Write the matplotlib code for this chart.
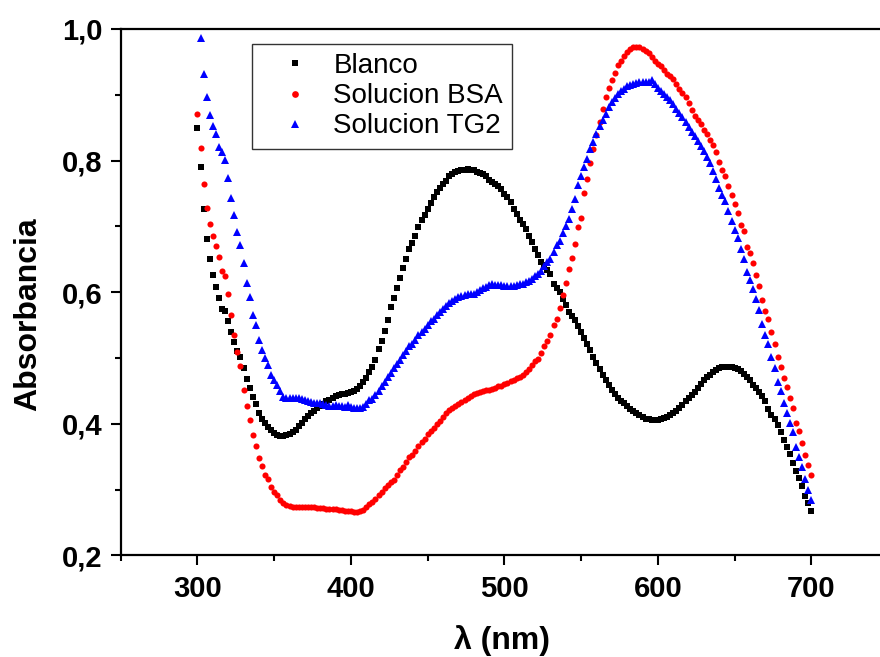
import numpy as np
import matplotlib
matplotlib.use("Agg")
import matplotlib.pyplot as plt
from matplotlib.ticker import MultipleLocator, FuncFormatter

plt.rcParams['font.family'] = ['Liberation Sans', 'DejaVu Sans']
plt.rcParams['font.weight'] = 'bold'

# Wavelength grids (nm)
wl = np.arange(300, 701, 2)
wl_tg2 = np.arange(302, 701, 2)

# Absorbance spectra
blanco = np.array([
    0.849, 0.791, 0.726, 0.681, 0.650, 0.626, 0.608, 0.591, 0.575, 0.571,
    0.556, 0.539, 0.525, 0.511, 0.501, 0.485, 0.468, 0.455, 0.441, 0.430,
    0.417, 0.408, 0.401, 0.395, 0.390, 0.386, 0.383, 0.382, 0.382, 0.383,
    0.385, 0.388, 0.391, 0.396, 0.402, 0.407, 0.412, 0.416, 0.420, 0.424,
    0.427, 0.430, 0.434, 0.437, 0.440, 0.442, 0.444, 0.445, 0.446, 0.447,
    0.449, 0.450, 0.453, 0.457, 0.463, 0.470, 0.479, 0.487, 0.497, 0.513,
    0.526, 0.541, 0.558, 0.577, 0.591, 0.606, 0.622, 0.637, 0.651, 0.665,
    0.675, 0.685, 0.699, 0.709, 0.717, 0.726, 0.736, 0.744, 0.752, 0.759,
    0.764, 0.769, 0.776, 0.779, 0.782, 0.784, 0.785, 0.786, 0.787, 0.786,
    0.785, 0.783, 0.781, 0.779, 0.776, 0.771, 0.768, 0.765, 0.761, 0.757,
    0.750, 0.744, 0.737, 0.727, 0.719, 0.710, 0.704, 0.696, 0.686, 0.676,
    0.665, 0.656, 0.646, 0.641, 0.634, 0.627, 0.613, 0.607, 0.601, 0.590,
    0.581, 0.570, 0.564, 0.558, 0.549, 0.540, 0.530, 0.521, 0.512, 0.502,
    0.492, 0.483, 0.474, 0.466, 0.459, 0.452, 0.445, 0.439, 0.435, 0.431,
    0.427, 0.423, 0.419, 0.416, 0.413, 0.410, 0.408, 0.407, 0.406, 0.406,
    0.406, 0.407, 0.409, 0.411, 0.413, 0.416, 0.419, 0.424, 0.429, 0.434,
    0.439, 0.444, 0.449, 0.455, 0.461, 0.466, 0.471, 0.475, 0.479, 0.482,
    0.485, 0.486, 0.487, 0.487, 0.487, 0.485, 0.483, 0.480, 0.476, 0.471,
    0.466, 0.459, 0.454, 0.448, 0.442, 0.434, 0.423, 0.414, 0.407, 0.398,
    0.388, 0.376, 0.365, 0.354, 0.340, 0.329, 0.317, 0.305, 0.291, 0.280,
    0.268,
])

solucion_bsa = np.array([
    0.871, 0.819, 0.764, 0.728, 0.704, 0.685, 0.671, 0.654, 0.633, 0.625,
    0.598, 0.565, 0.535, 0.509, 0.488, 0.452, 0.427, 0.406, 0.383, 0.367,
    0.348, 0.336, 0.323, 0.316, 0.304, 0.297, 0.292, 0.285, 0.280, 0.277,
    0.275, 0.274, 0.273, 0.273, 0.273, 0.273, 0.274, 0.273, 0.273, 0.272,
    0.272, 0.272, 0.271, 0.271, 0.270, 0.270, 0.269, 0.269, 0.268, 0.268,
    0.267, 0.266, 0.266, 0.267, 0.269, 0.273, 0.278, 0.282, 0.286, 0.292,
    0.297, 0.302, 0.307, 0.311, 0.315, 0.323, 0.330, 0.335, 0.342, 0.349,
    0.353, 0.359, 0.366, 0.372, 0.377, 0.384, 0.389, 0.393, 0.400, 0.405,
    0.410, 0.416, 0.421, 0.424, 0.427, 0.430, 0.433, 0.436, 0.439, 0.442,
    0.445, 0.447, 0.449, 0.450, 0.451, 0.452, 0.453, 0.455, 0.457, 0.458,
    0.460, 0.462, 0.465, 0.467, 0.469, 0.471, 0.475, 0.479, 0.484, 0.490,
    0.495, 0.498, 0.507, 0.519, 0.526, 0.535, 0.550, 0.560, 0.576, 0.596,
    0.614, 0.636, 0.652, 0.674, 0.699, 0.713, 0.751, 0.772, 0.797, 0.817,
    0.839, 0.859, 0.879, 0.896, 0.910, 0.923, 0.933, 0.945, 0.952, 0.959,
    0.965, 0.969, 0.972, 0.973, 0.972, 0.970, 0.967, 0.963, 0.958, 0.952,
    0.947, 0.943, 0.938, 0.932, 0.929, 0.924, 0.916, 0.909, 0.903, 0.896,
    0.888, 0.877, 0.868, 0.862, 0.855, 0.847, 0.840, 0.832, 0.823, 0.813,
    0.798, 0.786, 0.776, 0.761, 0.748, 0.734, 0.720, 0.702, 0.693, 0.668,
    0.659, 0.644, 0.626, 0.609, 0.588, 0.572, 0.559, 0.540, 0.521, 0.502,
    0.487, 0.469, 0.456, 0.439, 0.424, 0.402, 0.389, 0.371, 0.352, 0.337,
    0.323,
])

solucion_tg2 = np.array([
    0.986, 0.932, 0.897, 0.870, 0.852, 0.840, 0.821, 0.813, 0.801,
    0.774, 0.743, 0.717, 0.692, 0.672, 0.645, 0.614, 0.592, 0.566, 0.550,
    0.527, 0.512, 0.500, 0.489, 0.475, 0.467, 0.459, 0.450, 0.441, 0.440,
    0.440, 0.439, 0.440, 0.439, 0.438, 0.437, 0.435, 0.433, 0.431, 0.431,
    0.432, 0.430, 0.428, 0.427, 0.427, 0.428, 0.427, 0.427, 0.426, 0.428,
    0.425, 0.424, 0.424, 0.424, 0.426, 0.430, 0.436, 0.438, 0.444, 0.450,
    0.457, 0.464, 0.471, 0.478, 0.485, 0.491, 0.497, 0.504, 0.510, 0.518,
    0.522, 0.528, 0.535, 0.540, 0.544, 0.550, 0.556, 0.560, 0.565, 0.570,
    0.575, 0.579, 0.583, 0.586, 0.589, 0.592, 0.594, 0.596, 0.598, 0.598,
    0.597, 0.600, 0.603, 0.606, 0.608, 0.611, 0.612, 0.611, 0.611, 0.611,
    0.610, 0.609, 0.609, 0.610, 0.611, 0.612, 0.613, 0.615, 0.617, 0.620,
    0.624, 0.628, 0.633, 0.640, 0.646, 0.650, 0.661, 0.672, 0.678, 0.690,
    0.700, 0.711, 0.727, 0.742, 0.763, 0.776, 0.791, 0.803, 0.818, 0.829,
    0.840, 0.852, 0.862, 0.871, 0.881, 0.889, 0.895, 0.901, 0.905, 0.909,
    0.913, 0.915, 0.917, 0.918, 0.919, 0.920, 0.920, 0.920, 0.922, 0.916,
    0.911, 0.906, 0.901, 0.896, 0.892, 0.886, 0.879, 0.873, 0.867, 0.859,
    0.851, 0.844, 0.837, 0.830, 0.822, 0.814, 0.806, 0.796, 0.784, 0.772,
    0.758, 0.748, 0.738, 0.724, 0.708, 0.695, 0.682, 0.665, 0.650, 0.631,
    0.619, 0.605, 0.590, 0.573, 0.552, 0.535, 0.522, 0.502, 0.485, 0.464,
    0.450, 0.432, 0.417, 0.402, 0.388, 0.365, 0.350, 0.334, 0.316, 0.299,
    0.285,
])

series_labels = ['Blanco', 'Solucion BSA', 'Solucion TG2']

fig = plt.figure(figsize=(8.8, 6.57), dpi=100)
ax = fig.add_axes([0.1372, 0.1545, 0.872, 0.8014])

ax.plot(wl, blanco, ls='none', marker='s', ms=3.9, mew=0, color='#000000',
        label=series_labels[0])
ax.plot(wl, solucion_bsa, ls='none', marker='o', ms=4.4, mew=0, color='#ff0000',
        label=series_labels[1])
ax.plot(wl_tg2, solucion_tg2, ls='none', marker='^', ms=5.6, mew=0, color='#0000ff',
        label=series_labels[2])

ax.set_xlim(250, 750)
ax.set_ylim(0.2, 1.0)

ax.xaxis.set_major_locator(MultipleLocator(100))
ax.xaxis.set_minor_locator(MultipleLocator(50))
ax.yaxis.set_major_locator(MultipleLocator(0.2))
ax.yaxis.set_minor_locator(MultipleLocator(0.1))
ax.yaxis.set_major_formatter(FuncFormatter(lambda v, p: f'{v:.1f}'.replace('.', ',')))

for side in ('left', 'bottom', 'top'):
    ax.spines[side].set_linewidth(1.6)
ax.spines['right'].set_visible(False)

ax.tick_params(which='major', direction='out', length=7, width=1.5,
               labelsize=21, top=False, right=False)
ax.tick_params(which='minor', direction='out', length=4, width=1.5,
               top=False, right=False)
ax.tick_params(axis='x', which='major', pad=7)
ax.tick_params(axis='y', which='major', pad=6)

ax.set_xlabel('λ (nm)', fontsize=23, fontweight='bold')
ax.set_ylabel('Absorbancia', fontsize=23, fontweight='bold')
ax.xaxis.set_label_coords(0.497, -0.132)
ax.yaxis.set_label_coords(-0.1007, 0.4587)

leg = ax.legend(loc='upper left', bbox_to_anchor=(0.171, 0.9715), borderaxespad=0,
                prop={'size': 20, 'weight': 'normal'}, frameon=True, fancybox=False,
                edgecolor='#333333', framealpha=1, handlelength=2.45,
                handletextpad=0.15, borderpad=0.33, labelspacing=0.15, numpoints=1,
                markerscale=1.1)
leg.get_frame().set_linewidth(1.0)

fig.savefig('out.png', dpi=100)
